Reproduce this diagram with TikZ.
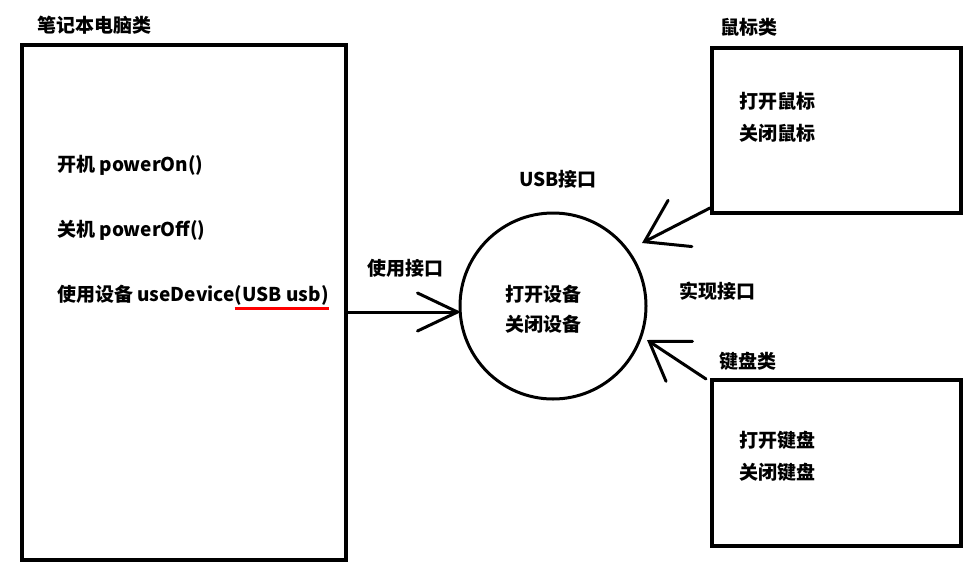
\documentclass[tikz,border=0pt]{standalone}
\usepackage{fontspec}
\setmainfont{Noto Sans CJK SC}
\usetikzlibrary{arrows.meta}
\tikzset{
  box/.style={draw, line width=3.5pt, inner sep=0pt},
  lbl/.style={anchor=west, inner sep=0pt, font=\fontsize{19}{23}\selectfont\bfseries},
  conn/.style={line width=3pt, line cap=round},
}
\begin{document}
\begin{tikzpicture}[x=1pt, y=-1pt]
\useasboundingbox (0,0) rectangle (980,568);
% laptop
\node[box, minimum width=324pt, minimum height=515pt] (laptop) at (184,302.5) {};
\node[lbl] (laptopT) at (37,25) {笔记本电脑类};
\node[lbl] (on) at (57,165) {开机 powerOn()};
\node[lbl] (off) at (57,230) {关机 powerOff()};
\node[lbl] (use) at (57,294) {使用设备 useDevice};
\node[lbl, anchor=base west] (usearg) at (use.base east) {(USB usb)};
\draw[red, line width=2.5pt] ([yshift=-3pt]usearg.south west) -- ([yshift=-3pt]usearg.south east);
% USB interface
\node[draw, circle, line width=3pt, minimum size=186pt, inner sep=0pt] (usb) at (553,306) {};
\node[lbl] (usbT) at (519,179) {USB接口};
\node[lbl] (uo) at (505,294) {打开设备};
\node[lbl] (uc) at (505,324) {关闭设备};
\node[lbl] (useI) at (367,268) {使用接口};
\coordinate (t0) at (461,312);
\draw[conn, -{Straight Barb[length=40pt, width=38pt, line cap=round]}] (laptop.east |- t0) -- (t0);
% mouse
\node[box, minimum width=249pt, minimum height=165pt] (mouse) at (836.5,130.5) {};
\node[lbl] (mouseT) at (720,27) {鼠标类};
\node[lbl] (mo) at (739,101) {打开鼠标};
\node[lbl] (mc) at (739,133) {关闭鼠标};
% keyboard
\node[box, minimum width=249pt, minimum height=166pt] (kb) at (836.5,463) {};
\node[lbl] (kbT) at (719,361) {键盘类};
\node[lbl] (ko) at (739,440) {打开键盘};
\node[lbl] (kc) at (739,472) {关闭键盘};
\node[lbl] (impl) at (679,291) {实现接口};
% implementation arrows
\coordinate (m1) at (710,208);
\coordinate (t1) at (642,243);
\draw[conn, -{Straight Barb[length=40pt, width=52pt, line cap=round]}] (m1) -- (t1);
\coordinate (k1) at (706,379);
\coordinate (t2) at (647,340);
\draw[conn, -{Straight Barb[length=36pt, width=48pt, line cap=round]}] (k1) -- (t2);
\end{tikzpicture}
\end{document}
